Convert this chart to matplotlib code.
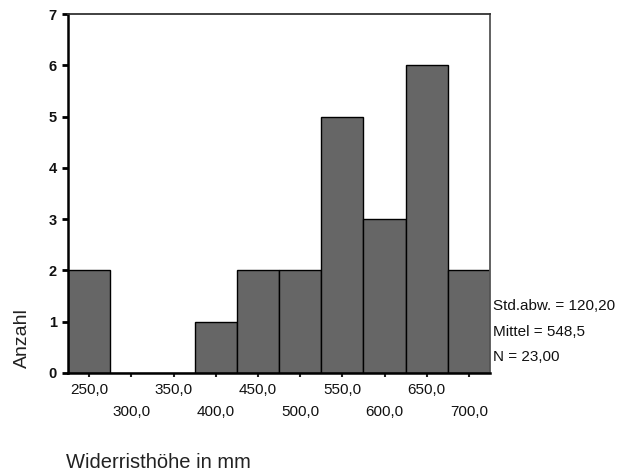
import matplotlib
matplotlib.use("Agg")
import matplotlib.pyplot as plt

# Histogram of withers height (bin centres in mm, counts per bin)
bin_centers = [250, 300, 350, 400, 450, 500, 550, 600, 650, 700]
counts = [2, 0, 0, 1, 2, 2, 5, 3, 6, 2]
bin_width = 50
tick_labels = ["250,0", "300,0", "350,0", "400,0", "450,0",
               "500,0", "550,0", "600,0", "650,0", "700,0"]
y_ticks = [0, 1, 2, 3, 4, 5, 6, 7]
stats_lines = ["Std.abw. = 120,20", "Mittel = 548,5", "N = 23,00"]

plt.rcParams["font.family"] = ["Liberation Sans", "DejaVu Sans"]

W, H = 621, 472
fig = plt.figure(figsize=(W / 100, H / 100), dpi=100)
ax = fig.add_axes([68 / W, 1 - 373 / H, 422 / W, 359 / H])

ax.bar(bin_centers, counts, width=bin_width, color="#666666",
       edgecolor="black", linewidth=1.0, zorder=2)

ax.set_xlim(225, 725)
ax.set_ylim(0, 7)

ax.set_yticks(y_ticks)
ax.set_yticklabels([str(v) for v in y_ticks], fontsize=10.5, fontweight="bold",
                   color="#111111")
ax.tick_params(axis="y", length=4, width=2, pad=4, color="black")

ax.set_xticks(bin_centers)
ax.set_xticklabels(tick_labels, fontsize=11, color="#111111")
ax.tick_params(axis="x", length=3, width=1.5, color="#222222")
for i, tick in enumerate(ax.xaxis.get_major_ticks()):
    tick.set_pad(4 if i % 2 == 0 else 20)

for side in ("left", "bottom"):
    ax.spines[side].set_linewidth(1.8)
    ax.spines[side].set_color("black")
ax.spines["top"].set_linewidth(1.3)
ax.spines["top"].set_color("#333333")
ax.spines["right"].set_linewidth(1.3)
ax.spines["right"].set_color("#555555")

for k, line in enumerate(stats_lines):
    fig.text(493 / W, 1 - (306 + 25.5 * k) / H, line, fontsize=11,
             ha="left", va="center", color="#111111")

fig.text(22 / W, 1 - 338 / H, "Anzahl", rotation=90, fontsize=14,
         ha="center", va="center", color="#222222")
fig.text(66 / W, 1 - 462 / H, "Widerristhöhe in mm", fontsize=14.5,
         ha="left", va="center", color="#222222")

fig.savefig("out.png", dpi=100, facecolor="white")
